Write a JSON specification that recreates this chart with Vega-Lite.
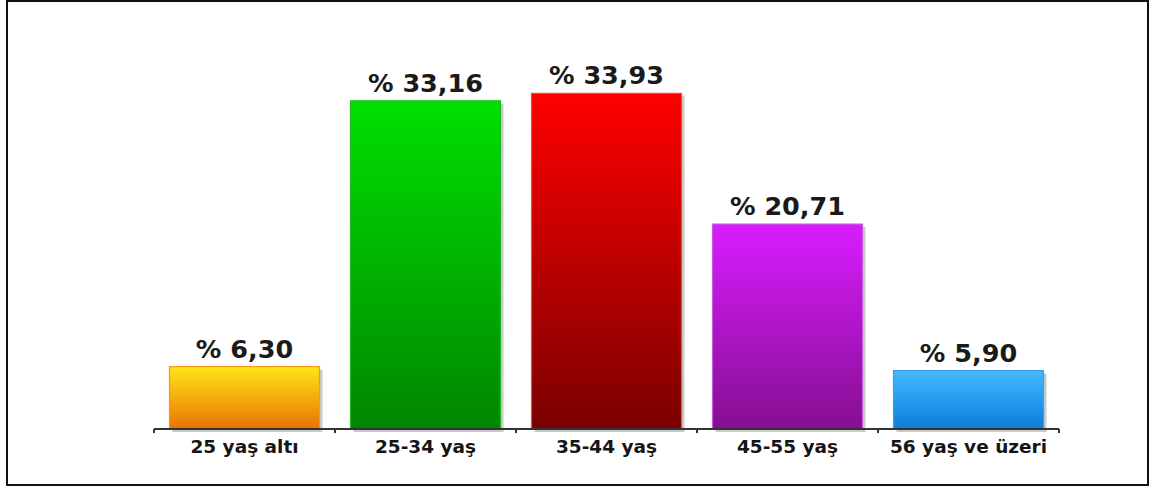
{
  "$schema": "https://vega.github.io/schema/vega-lite/v6.json",
  "width": 1141,
  "height": 484,
  "autosize": {"type": "none"},
  "padding": {"left": 7, "top": 1, "right": 5, "bottom": 1},
  "background": "white",
  "config": {
    "view": {"stroke": "#111111", "strokeWidth": 2},
    "locale": {"number": {"decimal": ",", "thousands": ".", "grouping": [3], "currency": ["% ", ""]}}
  },
  "data": {
    "values": [
      {"group": "25 yaş altı", "value": 6.30},
      {"group": "25-34 yaş", "value": 33.16},
      {"group": "35-44 yaş", "value": 33.93},
      {"group": "45-55 yaş", "value": 20.71},
      {"group": "56 yaş ve üzeri", "value": 5.90}
    ]
  },
  "encoding": {
    "x": {
      "field": "group",
      "type": "nominal",
      "sort": null,
      "scale": {"paddingInner": 0.1713, "paddingOuter": 0.7376, "align": 0.6086},
      "axis": {
        "title": null,
        "domain": false,
        "grid": false,
        "ticks": false,
        "labelAngle": 0,
        "labelFont": "DejaVu Sans",
        "labelFontWeight": "bold",
        "labelFontSize": 18.5,
        "labelColor": "#151515",
        "labelBaseline": "alphabetic",
        "labelPadding": 23.5,
        "labelOverlap": false,
        "labelLimit": 300,
        "offset": -56
      }
    }
  },
  "layer": [
    {
      "mark": {"type": "bar", "color": "#8a8a8a", "opacity": 0.45, "xOffset": 3, "yOffset": 3},
      "encoding": {
        "y": {"field": "value", "type": "quantitative", "scale": {"domain": [-5.65, 43.25], "nice": false, "zero": false}, "axis": null}
      }
    },
    {
      "mark": {"type": "bar", "strokeWidth": 1.2},
      "encoding": {
        "y": {"field": "value", "type": "quantitative", "scale": {"domain": [-5.65, 43.25], "nice": false, "zero": false}, "axis": null},
        "fill": {
          "condition": [
            {"test": "datum.group === '25 yaş altı'", "value": {"gradient": "linear", "x1": 0, "y1": 0, "x2": 0, "y2": 1, "stops": [{"offset": 0, "color": "#FFE41A"}, {"offset": 1, "color": "#EA7200"}]}},
            {"test": "datum.group === '25-34 yaş'", "value": {"gradient": "linear", "x1": 0, "y1": 0, "x2": 0, "y2": 1, "stops": [{"offset": 0, "color": "#00E000"}, {"offset": 1, "color": "#008600"}]}},
            {"test": "datum.group === '35-44 yaş'", "value": {"gradient": "linear", "x1": 0, "y1": 0, "x2": 0, "y2": 1, "stops": [{"offset": 0, "color": "#FF0000"}, {"offset": 1, "color": "#7A0000"}]}},
            {"test": "datum.group === '45-55 yaş'", "value": {"gradient": "linear", "x1": 0, "y1": 0, "x2": 0, "y2": 1, "stops": [{"offset": 0, "color": "#D91CFF"}, {"offset": 1, "color": "#850F90"}]}}
          ],
          "value": {"gradient": "linear", "x1": 0, "y1": 0, "x2": 0, "y2": 1, "stops": [{"offset": 0, "color": "#46B8FF"}, {"offset": 1, "color": "#0A7DDB"}]}
        },
        "stroke": {
          "condition": [
            {"test": "datum.group === '25 yaş altı'", "value": "#F29A1E"},
            {"test": "datum.group === '25-34 yaş'", "value": "#22B822"},
            {"test": "datum.group === '35-44 yaş'", "value": "#E0553A"},
            {"test": "datum.group === '45-55 yaş'", "value": "#C45ADF"}
          ],
          "value": "#3A9EF0"
        }
      }
    },
    {
      "mark": {"type": "text", "baseline": "alphabetic", "align": "center", "dy": -9, "font": "DejaVu Sans", "fontWeight": "bold", "fontSize": 25.5, "color": "#1a1a1a"},
      "encoding": {
        "y": {"field": "value", "type": "quantitative", "scale": {"domain": [-5.65, 43.25], "nice": false, "zero": false}, "axis": null},
        "text": {"field": "value", "type": "quantitative", "format": "$.2f"}
      }
    },
    {
      "mark": {"type": "tick", "orient": "horizontal", "size": 181, "thickness": 2, "color": "#333333", "opacity": 1},
      "encoding": {
        "y": {"datum": 0, "type": "quantitative", "scale": {"domain": [-5.65, 43.25], "nice": false, "zero": false}, "axis": null}
      }
    },
    {
      "mark": {"type": "rule", "strokeWidth": 2, "color": "#333333", "xOffset": -15.5},
      "encoding": {
        "x": {"field": "group", "type": "nominal", "sort": null, "bandPosition": 0},
        "y": {"datum": 0, "type": "quantitative", "scale": {"domain": [-5.65, 43.25], "nice": false, "zero": false}, "axis": null},
        "y2": {"datum": -0.4}
      }
    },
    {
      "transform": [{"filter": "datum.group === '56 yaş ve üzeri'"}],
      "mark": {"type": "rule", "strokeWidth": 2, "color": "#333333", "xOffset": 15.5},
      "encoding": {
        "x": {"field": "group", "type": "nominal", "sort": null, "bandPosition": 1},
        "y": {"datum": 0, "type": "quantitative", "scale": {"domain": [-5.65, 43.25], "nice": false, "zero": false}, "axis": null},
        "y2": {"datum": -0.4}
      }
    }
  ]
}
